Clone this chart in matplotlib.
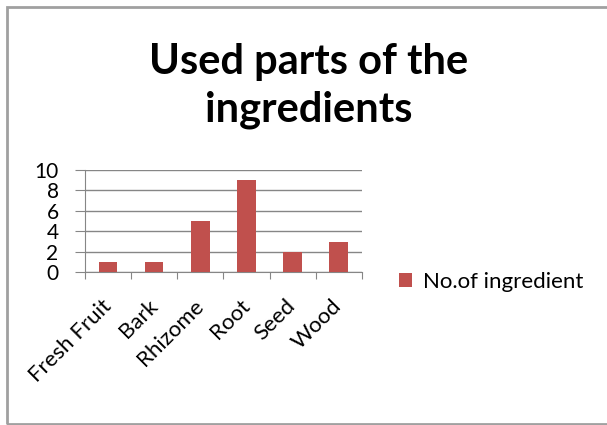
import matplotlib
matplotlib.use("Agg")
import matplotlib.pyplot as plt
from matplotlib.patches import Rectangle

categories = ["Fresh Fruit", "Bark", "Rhizome", "Root", "Seed", "Wood"]
counts = [1, 1, 5, 9, 2, 3]
series_name = "No.of ingredient"
title_text = "Used parts of the\ningredients"
yticks = [0, 2, 4, 6, 8, 10]

plt.rcParams['font.family'] = ['Lato', 'DejaVu Sans']

fig = plt.figure(figsize=(6.07, 4.25), dpi=100)
ax = fig.add_axes([0.140, 0.359, 0.456, 0.241])

x = list(range(len(categories)))
ax.bar(x, counts, width=0.4, color="#C0504D", label=series_name, zorder=3)

ax.set_xlim(-0.5, len(categories) - 0.5)
ax.set_ylim(0, 10)
ax.set_yticks(yticks)
ax.set_yticklabels([str(v) for v in yticks], fontsize=15)
ax.yaxis.grid(True, color="#868686", linewidth=1)
ax.tick_params(axis="y", length=7, color="#868686", pad=12)

# category labels sit between boundary ticks
ax.set_xticks([i - 0.5 for i in range(len(categories) + 1)], minor=False)
ax.set_xticklabels([])
ax.set_xticks(x, minor=True)
ax.set_xticklabels(categories, minor=True, rotation=45, ha="right", va="center",
                   rotation_mode="anchor", fontsize=16)
ax.tick_params(axis="x", which="major", length=5, color="#868686")
ax.tick_params(axis="x", which="minor", length=0, pad=22)

for side in ["top", "right"]:
    ax.spines[side].set_visible(False)
ax.spines["left"].set_color("#868686")
ax.spines["bottom"].set_color("#868686")

fig.text(0.508, 0.797, title_text, ha="center", va="center", fontsize=30,
         fontweight="bold", linespacing=1.32)

leg = fig.legend(loc="center left", bbox_to_anchor=(0.625, 0.337), frameon=False,
                 fontsize=16, handlelength=0.55, handleheight=0.55, handletextpad=0.5)

fig.patches.append(Rectangle((7 / 607, 0.002), 1.2, 1 - 7 / 425 - 0.002,
                             transform=fig.transFigure, fill=False,
                             edgecolor="#A0A0A0", linewidth=2))

fig.savefig("out.png", dpi=100)
